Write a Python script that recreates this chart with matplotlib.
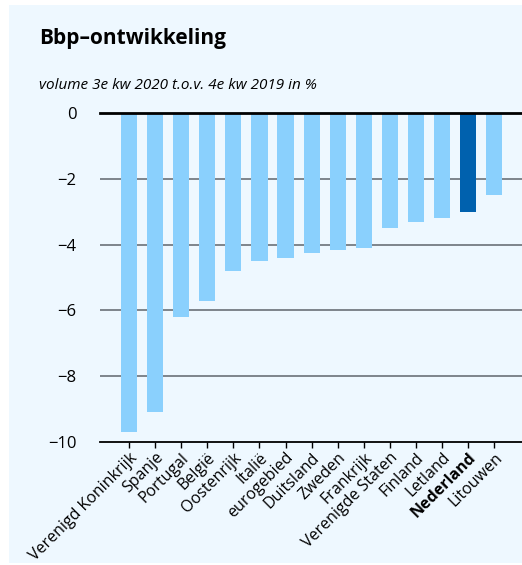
import matplotlib.pyplot as plt
from matplotlib.patches import Rectangle

# data
countries = [
    'Verenigd Koninkrijk', 'Spanje', 'Portugal', 'België', 'Oostenrijk',
    'Italië', 'eurogebied', 'Duitsland', 'Zweden', 'Frankrijk',
    'Verenigde Staten', 'Finland', 'Letland', 'Nederland', 'Litouwen',
]
growth = [-9.7, -9.1, -6.2, -5.7, -4.8, -4.5, -4.4, -4.25, -4.15, -4.1,
          -3.5, -3.3, -3.2, -3.0, -2.5]
highlight = 'Nederland'
yticks = [0, -2, -4, -6, -8, -10]

light_blue = '#8ad0fd'
dark_blue = '#0061ae'
panel_bg = '#eef8ff'

plt.rcParams['font.family'] = ['Open Sans', 'DejaVu Sans']

W, H = 522, 565
fig = plt.figure(figsize=(W / 100, H / 100), dpi=100)
fig.patch.set_facecolor('white')
fig.patches.append(Rectangle((9 / W, 2 / H), 1 - 9 / W, (H - 7) / H,
                             transform=fig.transFigure, facecolor=panel_bg,
                             edgecolor='none', zorder=-1))

ax = fig.add_axes([100 / W, (H - 442) / H, 422 / W, (442 - 113) / H])
ax.set_zorder(1)
ax.set_facecolor('none')

x = list(range(len(countries)))
colors = [dark_blue if c == highlight else light_blue for c in countries]
ax.bar(x, growth, width=0.62, color=colors, zorder=2)

ax.set_xlim(-1.11, 15.06)
ax.set_ylim(-10, 0)

for v in yticks[1:-1]:
    ax.axhline(v, color='#6b7178', lw=1.2, zorder=1)
ax.axhline(0, color='black', lw=2, zorder=3, clip_on=False)

for side in ['top', 'right', 'left']:
    ax.spines[side].set_visible(False)
ax.spines['bottom'].set_color('black')
ax.spines['bottom'].set_linewidth(1.3)

ax.set_yticks(yticks)
ax.set_yticklabels(['0' if v == 0 else '\u2212' + str(-v) for v in yticks],
                   fontsize=12)
ax.tick_params(axis='y', length=0, pad=17)

ax.set_xticks(x)
ax.set_xticklabels(countries, rotation=45, ha='right', rotation_mode='anchor',
                   fontsize=11.5)
ax.tick_params(axis='x', length=4, width=1, color='black', pad=1.5)
for lbl in ax.get_xticklabels():
    if lbl.get_text() == highlight:
        lbl.set_fontweight('bold')

fig.text(39 / W, 1 - 44 / H, 'Bbp\u2013ontwikkeling', fontsize=15,
         fontweight='bold', ha='left', va='baseline')
fig.text(39 / W, 1 - 89 / H, 'volume 3e kw 2020 t.o.v. 4e kw 2019 in %',
         fontsize=11, style='italic', ha='left', va='baseline')

fig.savefig('out.png', dpi=100, facecolor=fig.get_facecolor())
